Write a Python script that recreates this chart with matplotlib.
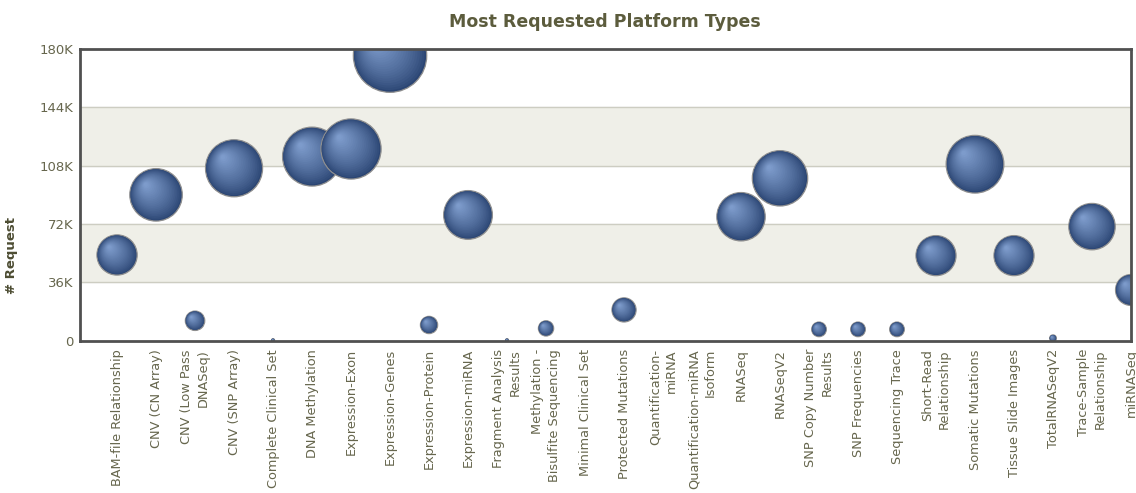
import numpy as np
import matplotlib
matplotlib.use("Agg")
import matplotlib.pyplot as plt
from matplotlib.colors import to_rgb

# platform types and request counts (thousands)
platforms = [
    "BAM-file Relationship", "CNV (CN Array)", "CNV (Low Pass DNASeq)", "CNV (SNP Array)",
    "Complete Clinical Set", "DNA Methylation", "Expression-Exon", "Expression-Genes",
    "Expression-Protein", "Expression-miRNA", "Fragment Analysis Results",
    "Methylation - Bisulfite Sequencing", "Minimal Clinical Set", "Protected Mutations",
    "Quantification-miRNA", "Quantification-miRNA Isoform", "RNASeq", "RNASeqV2",
    "SNP Copy Number Results", "SNP Frequencies", "Sequencing Trace", "Short-Read Relationship",
    "Somatic Mutations", "Tissue Slide Images", "TotalRNASeqV2", "Trace-Sample Relationship",
    "miRNASeq",
]
tick_labels = [
    "BAM-file Relationship", "CNV (CN Array)", "CNV (Low Pass\nDNASeq)", "CNV (SNP Array)",
    "Complete Clinical Set", "DNA Methylation", "Expression-Exon", "Expression-Genes",
    "Expression-Protein", "Expression-miRNA", "Fragment Analysis\nResults",
    "Methylation -\nBisulfite Sequencing", "Minimal Clinical Set", "Protected Mutations",
    "Quantification-\nmiRNA", "Quantification-miRNA\nIsoform", "RNASeq", "RNASeqV2",
    "SNP Copy Number\nResults", "SNP Frequencies", "Sequencing Trace", "Short-Read\nRelationship",
    "Somatic Mutations", "Tissue Slide Images", "TotalRNASeqV2", "Trace-Sample\nRelationship",
    "miRNASeq",
]
requests_k = [
    52.9, 90.0, 12.3, 106.4,
    0.3, 113.6, 118.3, 175.9,
    9.7, 77.6, 0.3,
    7.6, 0.0, 19.0,
    0.0, 0.0, 76.5, 100.2,
    7.0, 7.0, 7.0, 52.5,
    108.9, 52.5, 1.5, 70.4,
    31.3,
]
y_ticks = [0, 36, 72, 108, 144, 180]

TEXT = "#66664d"
DARK = "#2b4573"
LIGHT = "#7d9bcb"


def mix(c1, c2, t):
    a, b = np.array(to_rgb(c1)), np.array(to_rgb(c2))
    return tuple(a + (b - a) * t)


def draw_sphere(ax, x, y, s, z):
    # stack of shrinking, lighter circles drifting to the upper left
    if s <= 0:
        return
    r_px = np.sqrt(s) / 2 * ax.figure.dpi / 72
    cx, cy = ax.transData.transform((x, y))
    fr = np.linspace(1.0, 0.08, 22)
    pts, sizes, cols = [], [], []
    for i, f in enumerate(fr):
        shift = (1 - f) * r_px * 0.42
        pts.append((cx - shift, cy + shift))
        sizes.append(s * f * f)
        cols.append(mix(DARK, LIGHT, (i / (len(fr) - 1)) ** 0.8))
    data_pts = ax.transData.inverted().transform(np.array(pts))
    ec = ["#8f8f8f"] + ["none"] * (len(fr) - 1)
    lw = [0.9] + [0] * (len(fr) - 1)
    ax.scatter(data_pts[:, 0], data_pts[:, 1], s=sizes, c=cols, edgecolors=ec,
               linewidths=lw, zorder=z)


fig = plt.figure(figsize=(11.36, 4.93), dpi=100)
ax = fig.add_axes([80 / 1136, 1 - 340.7 / 493, (1131 - 80) / 1136, (340.7 - 49) / 493])

x = np.arange(len(platforms))
ax.set_xlim(-0.95, len(platforms) - 1)
ax.set_ylim(0, 180)

ax.axhspan(36, 72, color="#efefe8", zorder=0)
ax.axhspan(108, 144, color="#efefe8", zorder=0)
for t in y_ticks[1:-1]:
    ax.axhline(t, color="#cdcdc2", lw=1, zorder=1)

scale = 2790 / 175.9
for i, (xi, v) in enumerate(zip(x, requests_k)):
    draw_sphere(ax, xi, v, v * scale, 3 + i * 0.01)

ax.set_yticks(y_ticks)
ax.set_yticklabels(["0" if t == 0 else f"{t}K" for t in y_ticks])
ax.set_xticks(x)
ax.set_xticklabels(tick_labels, rotation=90, ha="center", va="top",
                   multialignment="right", linespacing=1.35)
ax.tick_params(axis="y", length=0, pad=5, labelsize=9.5, labelcolor=TEXT)
ax.tick_params(axis="x", length=0, pad=6, labelsize=9.3, labelcolor=TEXT)

for sp in ax.spines.values():
    sp.set_color("#505050")
    sp.set_linewidth(2)
    sp.set_zorder(10)

ax.set_ylabel("# Request", fontsize=9.5, fontweight="bold", color="#4d4d33")
ax.yaxis.set_label_coords((18 - 80) / 1051, (340.7 - 255) / 291.7)
fig.text(605 / 1136, 1 - 22 / 493, "Most Requested Platform Types", ha="center",
         va="center", fontsize=12.5, fontweight="bold", color="#5c5c3d")

fig.savefig("out.png", dpi=100)
